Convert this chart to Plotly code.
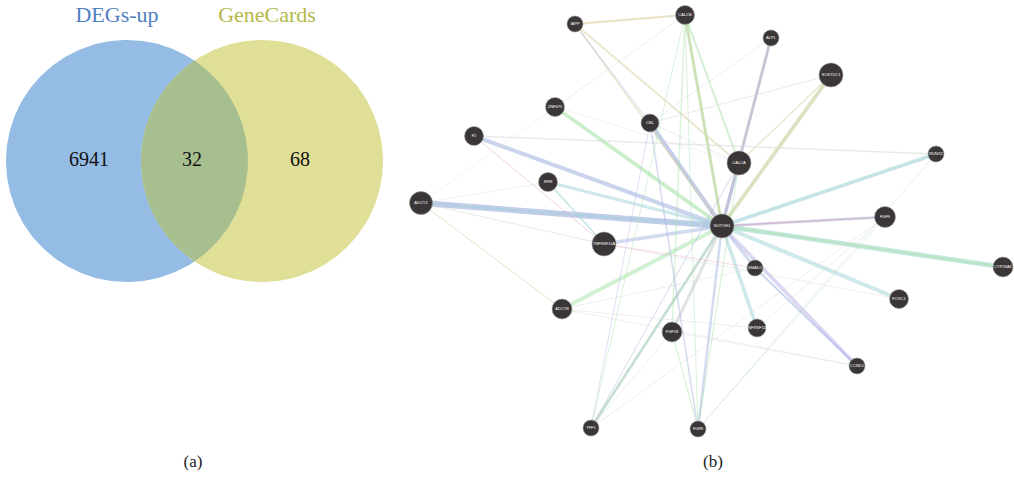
import numpy as np
import plotly.graph_objects as go

# ---------------- Venn data ----------------
set_names = ["DEGs-up", "GeneCards"]
set_colors = ["#4f80c2", "#b4b84a"]
region_values = [6941, 32, 68]
region_x = [89, 192, 300]
circle_cx = [127, 262]
circle_cy = [161, 161]
circle_r = [121, 121]
circle_fill = ["#95bce4", "#dfdf97"]
overlap_fill = "#a7bf8e"

# ---------------- Network data ----------------
node_names = ["IAPP", "CALCB", "ALPL", "SOSTDC1", "ZNF675", "CBL", "F2", "CALCA", "RUNX2",
              "IRF8", "ADCY2", "NOTCH1", "FGF9", "TNFRSF11A", "CYP26A1", "SMAD1", "FOXC1",
              "ADCY8", "FGF18", "TNFRSF11B", "CCND1", "TFF1", "FGF8"]
node_x = [575, 685, 771, 831, 555, 650, 474, 739, 936, 548, 421, 722, 885, 604, 1003, 755, 899,
          562, 672, 757, 857, 591, 698]
node_y = [24, 15, 38, 75, 107, 123, 136, 163, 154, 182, 203, 226, 217, 244, 267, 268, 299,
          309, 332, 328, 366, 428, 429]
node_d = [16, 19, 16, 24, 19, 18, 19, 24, 16, 19, 23, 24, 21, 24, 20, 16, 19, 20, 20, 18, 16, 16, 16]

BLUE, GREEN, TEAL, TAN, PINK, GRAY, PURP = ("#a9b9e2", "#a6e3a6", "#9fd3d8", "#d9cfa0",
                                            "#eaa8ba", "#d5d8d8", "#b7b0e6")
edges = [
    ("NOTCH1", "ADCY2", BLUE, 6, 0.7), ("NOTCH1", "ADCY2", TEAL, 2, 0.5),
    ("NOTCH1", "F2", BLUE, 4, 0.6), ("NOTCH1", "CBL", BLUE, 4, 0.7),
    ("NOTCH1", "ZNF675", GREEN, 3.5, 0.6), ("NOTCH1", "CALCB", GREEN, 3, 0.6),
    ("NOTCH1", "CALCB", TAN, 2, 0.5), ("NOTCH1", "ALPL", PURP, 3, 0.6),
    ("NOTCH1", "ALPL", TAN, 2, 0.5), ("NOTCH1", "SOSTDC1", TAN, 4, 0.5),
    ("NOTCH1", "SOSTDC1", GREEN, 2, 0.4), ("NOTCH1", "CALCA", BLUE, 3, 0.5),
    ("NOTCH1", "RUNX2", TEAL, 3.5, 0.6), ("NOTCH1", "FGF9", PINK, 1.5, 0.8),
    ("NOTCH1", "FGF9", BLUE, 3, 0.4), ("NOTCH1", "CYP26A1", TEAL, 5, 0.5),
    ("NOTCH1", "CYP26A1", GREEN, 3, 0.5), ("NOTCH1", "FOXC1", TEAL, 4, 0.5),
    ("NOTCH1", "SMAD1", BLUE, 3, 0.5), ("NOTCH1", "CCND1", PURP, 3.5, 0.5),
    ("NOTCH1", "TNFRSF11B", TEAL, 3.5, 0.5), ("NOTCH1", "FGF18", GRAY, 3, 0.7),
    ("NOTCH1", "FGF8", BLUE, 2.5, 0.5), ("NOTCH1", "TFF1", GREEN, 3, 0.5),
    ("NOTCH1", "TFF1", PURP, 1.5, 0.4), ("NOTCH1", "ADCY8", GREEN, 4, 0.5),
    ("NOTCH1", "TNFRSF11A", BLUE, 3.5, 0.5), ("NOTCH1", "IRF8", TEAL, 3, 0.5),
    ("NOTCH1", "IAPP", TAN, 1.5, 0.5),
    ("IAPP", "CALCB", TAN, 2, 0.6), ("IAPP", "CALCA", TAN, 2, 0.5),
    ("IAPP", "CBL", PURP, 1, 0.5), ("CALCB", "CALCA", GREEN, 2, 0.5),
    ("CALCB", "FGF18", GREEN, 1.5, 0.4), ("CALCB", "ZNF675", GRAY, 1, 0.4),
    ("ALPL", "CALCA", BLUE, 1.5, 0.5), ("ALPL", "CBL", GRAY, 1, 0.4),
    ("SOSTDC1", "CBL", GRAY, 1, 0.5), ("SOSTDC1", "CALCA", TAN, 1.5, 0.5),
    ("F2", "RUNX2", GRAY, 1.5, 0.5), ("F2", "TNFRSF11A", PINK, 1, 0.5),
    ("ADCY2", "TNFRSF11A", GRAY, 1, 0.5), ("ADCY2", "ADCY8", TAN, 1, 0.6),
    ("ADCY2", "IRF8", GRAY, 1, 0.4), ("ADCY2", "ZNF675", GRAY, 1, 0.3),
    ("IRF8", "TNFRSF11A", TEAL, 1.5, 0.6), ("ADCY8", "SMAD1", GRAY, 1, 0.4),
    ("ADCY8", "TNFRSF11B", GRAY, 1, 0.4), ("ADCY8", "CCND1", GRAY, 1, 0.4),
    ("FGF18", "FGF8", GREEN, 1, 0.5), ("FGF18", "TFF1", GRAY, 1, 0.4),
    ("TFF1", "CALCA", BLUE, 1, 0.5), ("TFF1", "FGF9", GRAY, 1, 0.4),
    ("TFF1", "CBL", PURP, 1, 0.4), ("FGF8", "FGF9", GREEN, 1, 0.4),
    ("FGF8", "RUNX2", GRAY, 1, 0.4), ("FGF8", "CBL", BLUE, 1.5, 0.5),
    ("FGF8", "CALCB", GREEN, 1, 0.4), ("SMAD1", "CCND1", BLUE, 2, 0.6),
    ("TNFRSF11B", "FGF9", GRAY, 1, 0.4), ("TNFRSF11A", "FOXC1", GRAY, 1, 0.4),
    ("FGF18", "CCND1", GRAY, 1, 0.3), ("CALCA", "FGF8", GREEN, 1, 0.5),
    ("CBL", "CALCA", GRAY, 1, 0.4), ("TNFRSF11A", "SMAD1", PINK, 1, 0.4),
    ("ZNF675", "CALCA", GRAY, 1, 0.3), ("CALCB", "TFF1", GREEN, 1, 0.4),
]

fig = go.Figure()

# Venn circles
t = np.linspace(0, 2 * np.pi, 241)
for cx, cy, r, col in zip(circle_cx, circle_cy, circle_r, circle_fill):
    fig.add_trace(go.Scatter(x=cx + r * np.cos(t), y=cy + r * np.sin(t), mode="lines",
                             fill="toself", fillcolor=col, line=dict(width=0),
                             hoverinfo="skip", showlegend=False))
# lens (overlap)
d = circle_cx[1] - circle_cx[0]
r = circle_r[0]
a = np.arccos((d / 2) / r)
ta = np.linspace(-a, a, 120)
lx = np.concatenate([circle_cx[0] + r * np.cos(ta), circle_cx[1] - r * np.cos(ta[::-1])])
ly = np.concatenate([circle_cy[0] + r * np.sin(ta), circle_cy[1] + r * np.sin(ta[::-1])])
fig.add_trace(go.Scatter(x=lx, y=ly, mode="lines", fill="toself", fillcolor=overlap_fill,
                         line=dict(width=0), hoverinfo="skip", showlegend=False))

fig.add_trace(go.Scatter(x=region_x, y=[161] * 3, mode="text",
                         text=[str(v) for v in region_values],
                         textfont=dict(family="Liberation Serif", size=20, color="#111111"),
                         showlegend=False, hoverinfo="skip"))
fig.add_trace(go.Scatter(x=[117, 267], y=[16, 16], mode="text", text=set_names,
                         textfont=dict(family="Liberation Serif", size=22, color=set_colors),
                         showlegend=False, hoverinfo="skip"))
fig.add_trace(go.Scatter(x=[193, 713], y=[463, 463], mode="text", text=["(a)", "(b)"],
                         textfont=dict(family="Liberation Serif", size=17, color="#222222"),
                         showlegend=False, hoverinfo="skip"))

# Network edges
idx = {n: i for i, n in enumerate(node_names)}
for a_, b_, col, w, op in edges:
    i, j = idx[a_], idx[b_]
    fig.add_trace(go.Scatter(x=[node_x[i], node_x[j]], y=[node_y[i], node_y[j]], mode="lines",
                             line=dict(color=col, width=w), opacity=op,
                             hoverinfo="skip", showlegend=False))

# Network nodes
fig.add_trace(go.Scatter(x=node_x, y=node_y, mode="markers+text", text=node_names,
                         textposition="middle center", opacity=1,
                         marker=dict(size=node_d, color="#3a3637", opacity=1,
                                     line=dict(color="#9a9a9a", width=0.6)),
                         textfont=dict(family="Arial", size=4, color="white"),
                         showlegend=False, hoverinfo="text"))

fig.update_layout(width=1014, height=479, margin=dict(l=0, r=0, t=0, b=0),
                  plot_bgcolor="white", paper_bgcolor="white")
fig.update_xaxes(range=[0, 1014], visible=False)
fig.update_yaxes(range=[479, 0], visible=False)
fig.write_html("out.html")
